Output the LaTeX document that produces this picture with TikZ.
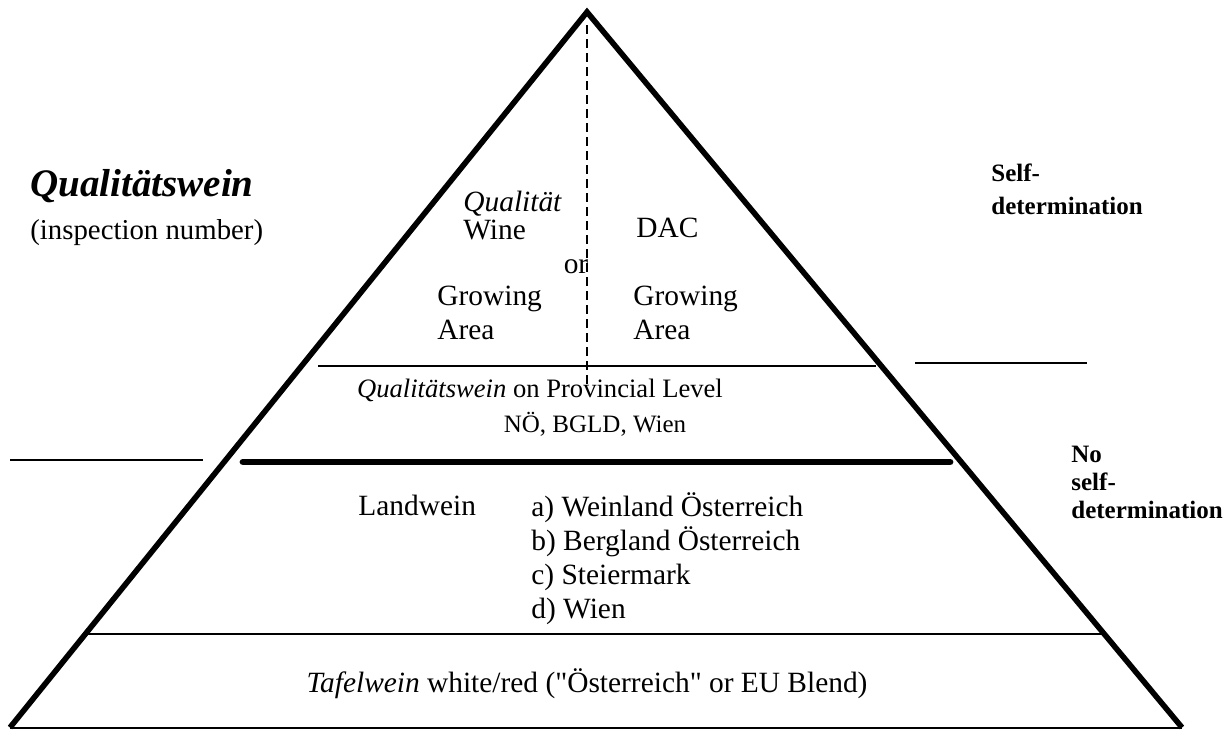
\documentclass[tikz,border=0pt]{standalone}
\usepackage{fontspec}
\setmainfont{Liberation Serif}
\definecolor{Ink}{HTML}{000000}
\tikzset{
  pyrside/.style={draw=Ink, line width=2.8pt, line join=miter},
  tierthin/.style={draw=Ink, line width=1pt},
  tierbold/.style={draw=Ink, line width=3.4pt, line cap=round},
  splitdash/.style={draw=Ink, line width=0.8pt, dash pattern=on 4.5pt off 2.5pt},
  pyrtext/.style={inner sep=0pt, font=\fontsize{14.7}{17}\selectfont, text=Ink, align=left},
  bigtitle/.style={inner sep=0pt, font=\fontsize{19.5}{24}\selectfont\bfseries\itshape, text=Ink},
  sidenote/.style={inner sep=0pt, font=\fontsize{12.5}{16.5}\selectfont\bfseries, text=Ink, align=left},
}
\begin{document}
\begin{tikzpicture}[x=0.5pt, y=-0.5pt]
  \useasboundingbox (0,0) rectangle (1227,729);
  % pyramid outline
  \coordinate (apex) at (587,12);
  \coordinate (baseL) at (10,727.5);
  \coordinate (baseR) at (1182,727.5);
  \draw[tierthin] (baseL) -- (baseR);
  \draw[pyrside] (baseL) -- (apex) -- (baseR);
  % tier separators
  \coordinate (provL) at (318,366);
  \coordinate (provR) at (876,366);
  \coordinate (landL) at (243,462);
  \coordinate (landR) at (950,462);
  \coordinate (tafL) at (85,634);
  \coordinate (tafR) at (1105,634);
  \draw[tierthin] (provL) -- (provR);
  \draw[tierbold] (landL) -- (landR);
  \draw[tierthin] (tafL) -- (tafR);
  \coordinate (dashTop) at (587,25);
  \coordinate (dashBot) at (587,385);
  \draw[splitdash] (dashTop) -- (dashBot);
  % side markers
  \coordinate (markLa) at (10,460);
  \coordinate (markLb) at (203,460);
  \coordinate (markRa) at (915,363);
  \coordinate (markRb) at (1087,363);
  \draw[tierthin] (markLa) -- (markLb);
  \draw[tierthin] (markRa) -- (markRb);
  % left title
  \node[bigtitle, anchor=base west] (qwtitle) at (30,196) {Qualitätswein};
  \node[pyrtext, anchor=base west, font=\fontsize{14.4}{17}\selectfont] (inspect) at (30,239) {(inspection number)};
  % top tier
  \node[pyrtext, anchor=north west, font=\fontsize{14.7}{14}\selectfont] (qwine) at (463,191) {\textit{Qualität}\\Wine};
  \node[pyrtext, anchor=base] (ortext) at (576,273) {or};
  \node[pyrtext, anchor=north west] (growL) at (437,286) {Growing\\Area};
  \node[pyrtext, anchor=north west] (dac) at (636,218) {DAC};
  \node[pyrtext, anchor=north west] (growR) at (633,286) {Growing\\Area};
  % provincial tier
  \node[pyrtext, anchor=base, font=\fontsize{13.3}{17}\selectfont] (prov) at (540,397) {\textit{Qualitätswein} on Provincial Level};
  \node[pyrtext, anchor=base, font=\fontsize{12.5}{17}\selectfont] (provlist) at (595,432) {NÖ, BGLD, Wien};
  % landwein tier
  \node[pyrtext, anchor=base west] (landwein) at (358,515) {Landwein};
  \node[pyrtext, anchor=north west] (landlist) at (531,492) {a) Weinland Österreich\\b) Bergland Österreich\\c) Steiermark\\d) Wien};
  % tafelwein tier
  \node[pyrtext, anchor=base] (tafel) at (587,692) {\textit{Tafelwein} white/red (\textquotedbl Österreich\textquotedbl{} or EU Blend)};
  % right notes
  \node[sidenote, anchor=north west] (selfdet) at (991,163) {Self-\\determination};
  \node[sidenote, anchor=north west, font=\fontsize{12.5}{14}\selectfont\bfseries] (noselfdet) at (1071,446) {No\\self-\\determination};
\end{tikzpicture}
\end{document}
